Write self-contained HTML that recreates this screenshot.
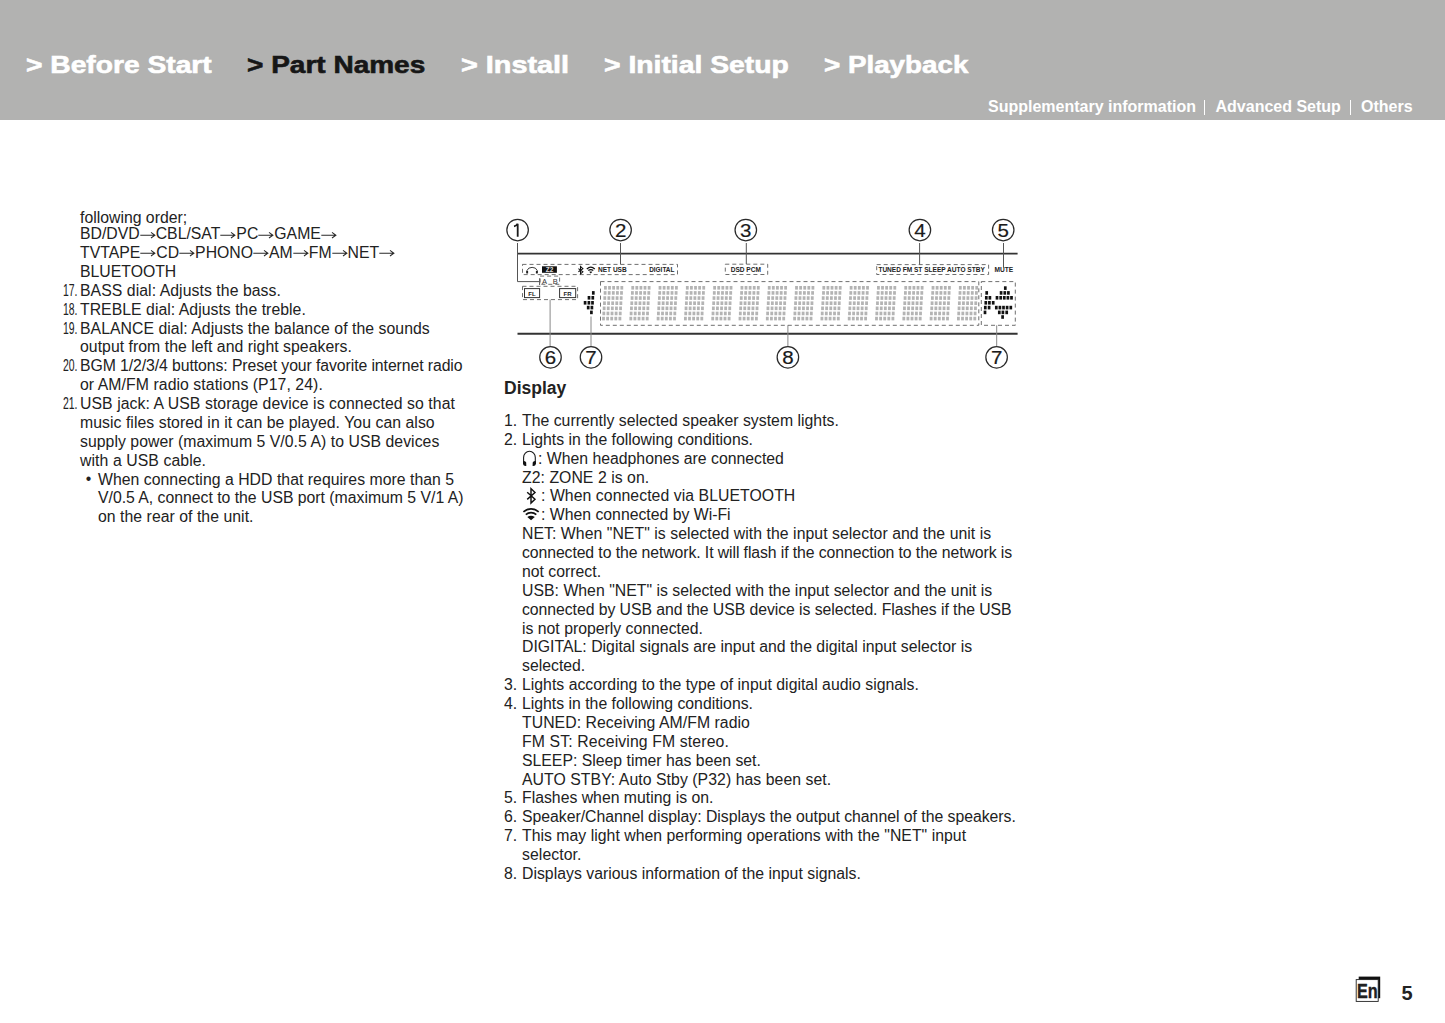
<!DOCTYPE html>
<html><head><meta charset="utf-8">
<style>
html,body{margin:0;padding:0;background:#fff;}
body{width:1445px;height:1023px;position:relative;overflow:hidden;font-family:"Liberation Sans",sans-serif;color:#222;}
#hdr{position:absolute;left:0;top:0;width:1445px;height:120px;background:#b2b2b1;}
.nav{position:absolute;top:50px;font-weight:bold;font-size:24px;color:#fff;white-space:nowrap;transform-origin:0 0;line-height:30px;-webkit-text-stroke:0.6px #fff;}
.nav.cur{color:#161616;-webkit-text-stroke:0.6px #161616;}
.sub{position:absolute;top:96.8px;font-weight:bold;font-size:16px;color:#fff;white-space:nowrap;line-height:20px;}
.bar{position:absolute;top:100px;width:1.3px;height:14.5px;background:#fff;}
.t{position:absolute;white-space:nowrap;font-size:15.8px;line-height:18.87px;}
.num{transform:scaleX(0.66);transform-origin:0 0;}
.ar{vertical-align:0.6px;display:inline-block;}
#dg{position:absolute;left:0;top:0;}
</style></head><body>
<div id="hdr">
<div class="nav" style="left:26px;transform:scaleX(1.175)">&gt; Before Start</div>
<div class="nav cur" style="left:247px;transform:scaleX(1.167)">&gt; Part Names</div>
<div class="nav" style="left:461px;transform:scaleX(1.2)">&gt; Install</div>
<div class="nav" style="left:604px;transform:scaleX(1.18)">&gt; Initial Setup</div>
<div class="nav" style="left:824px;transform:scaleX(1.157)">&gt; Playback</div>
<div class="sub" style="left:988px">Supplementary information</div>
<div class="bar" style="left:1204.2px"></div>
<div class="sub" style="left:1215.5px">Advanced Setup</div>
<div class="bar" style="left:1350px"></div>
<div class="sub" style="left:1361px">Others</div>
</div>
<div class="t" style="left:504px;top:376.64px;font-weight:bold;font-size:17.5px;line-height:22px">Display</div>
<div class="t" style="left:80px;top:208.59px">following order;</div>
<div class="t" style="left:80px;top:225.19px">BD/DVD<svg class="ar" width="16" height="8" viewBox="0 0 16 8"><path d="M0.3 4.2H14.4M11 1.4L14.9 4.2L11 7" stroke="#2a2a2a" stroke-width="1.05" fill="none"/></svg>CBL/SAT<svg class="ar" width="16" height="8" viewBox="0 0 16 8"><path d="M0.3 4.2H14.4M11 1.4L14.9 4.2L11 7" stroke="#2a2a2a" stroke-width="1.05" fill="none"/></svg>PC<svg class="ar" width="16" height="8" viewBox="0 0 16 8"><path d="M0.3 4.2H14.4M11 1.4L14.9 4.2L11 7" stroke="#2a2a2a" stroke-width="1.05" fill="none"/></svg>GAME<svg class="ar" width="16" height="8" viewBox="0 0 16 8"><path d="M0.3 4.2H14.4M11 1.4L14.9 4.2L11 7" stroke="#2a2a2a" stroke-width="1.05" fill="none"/></svg></div>
<div class="t" style="left:80px;top:244.06px">TVTAPE<svg class="ar" width="16" height="8" viewBox="0 0 16 8"><path d="M0.3 4.2H14.4M11 1.4L14.9 4.2L11 7" stroke="#2a2a2a" stroke-width="1.05" fill="none"/></svg>CD<svg class="ar" width="16" height="8" viewBox="0 0 16 8"><path d="M0.3 4.2H14.4M11 1.4L14.9 4.2L11 7" stroke="#2a2a2a" stroke-width="1.05" fill="none"/></svg>PHONO<svg class="ar" width="16" height="8" viewBox="0 0 16 8"><path d="M0.3 4.2H14.4M11 1.4L14.9 4.2L11 7" stroke="#2a2a2a" stroke-width="1.05" fill="none"/></svg>AM<svg class="ar" width="16" height="8" viewBox="0 0 16 8"><path d="M0.3 4.2H14.4M11 1.4L14.9 4.2L11 7" stroke="#2a2a2a" stroke-width="1.05" fill="none"/></svg>FM<svg class="ar" width="16" height="8" viewBox="0 0 16 8"><path d="M0.3 4.2H14.4M11 1.4L14.9 4.2L11 7" stroke="#2a2a2a" stroke-width="1.05" fill="none"/></svg>NET<svg class="ar" width="16" height="8" viewBox="0 0 16 8"><path d="M0.3 4.2H14.4M11 1.4L14.9 4.2L11 7" stroke="#2a2a2a" stroke-width="1.05" fill="none"/></svg></div>
<div class="t" style="left:80px;top:262.93px">BLUETOOTH</div>
<div class="t" style="left:80px;top:281.80px;letter-spacing:0.059px">BASS dial: Adjusts the bass.</div>
<div class="t num" style="left:63px;top:281.80px">17.</div>
<div class="t" style="left:80px;top:300.67px;letter-spacing:0.032px">TREBLE dial: Adjusts the treble.</div>
<div class="t num" style="left:63px;top:300.67px">18.</div>
<div class="t" style="left:80px;top:319.54px;letter-spacing:0.043px">BALANCE dial: Adjusts the balance of the sounds</div>
<div class="t num" style="left:63px;top:319.54px">19.</div>
<div class="t" style="left:80px;top:338.41px;letter-spacing:0.036px">output from the left and right speakers.</div>
<div class="t" style="left:80px;top:357.28px;letter-spacing:-0.085px">BGM 1/2/3/4 buttons: Preset your favorite internet radio</div>
<div class="t num" style="left:63px;top:357.28px">20.</div>
<div class="t" style="left:80px;top:376.15px;letter-spacing:0.067px">or AM/FM radio stations (P17, 24).</div>
<div class="t" style="left:80px;top:395.02px;letter-spacing:0.070px">USB jack: A USB storage device is connected so that</div>
<div class="t num" style="left:63px;top:395.02px">21.</div>
<div class="t" style="left:80px;top:413.89px;letter-spacing:0.049px">music files stored in it can be played. You can also</div>
<div class="t" style="left:80px;top:432.76px;letter-spacing:0.043px">supply power (maximum 5 V/0.5 A) to USB devices</div>
<div class="t" style="left:80px;top:451.63px;letter-spacing:0.081px">with a USB cable.</div>
<div class="t" style="left:98px;top:470.50px;letter-spacing:0.030px">When connecting a HDD that requires more than 5</div>
<div class="t" style="left:85.7px;top:469.50px">•</div>
<div class="t" style="left:98px;top:489.37px;letter-spacing:-0.014px">V/0.5 A, connect to the USB port (maximum 5 V/1 A)</div>
<div class="t" style="left:98px;top:508.24px;letter-spacing:0.039px">on the rear of the unit.</div>
<div class="t" style="left:522px;top:411.99px;letter-spacing:0.018px">The currently selected speaker system lights.</div>
<div class="t" style="left:504px;top:411.99px">1.</div>
<div class="t" style="left:522px;top:430.86px">Lights in the following conditions.</div>
<div class="t" style="left:504px;top:430.86px">2.</div>
<div class="t" style="left:538px;top:449.73px">: When headphones are connected</div>
<div class="t" style="left:522px;top:468.60px;letter-spacing:0.044px">Z2: ZONE 2 is on.</div>
<div class="t" style="left:541px;top:487.47px;letter-spacing:0.059px">: When connected via BLUETOOTH</div>
<div class="t" style="left:541px;top:506.34px">: When connected by Wi-Fi</div>
<div class="t" style="left:522px;top:525.21px;letter-spacing:0.048px">NET: When &quot;NET&quot; is selected with the input selector and the unit is</div>
<div class="t" style="left:522px;top:544.08px;letter-spacing:-0.093px">connected to the network. It will flash if the connection to the network is</div>
<div class="t" style="left:522px;top:562.95px">not correct.</div>
<div class="t" style="left:522px;top:581.82px;letter-spacing:0.024px">USB: When &quot;NET&quot; is selected with the input selector and the unit is</div>
<div class="t" style="left:522px;top:600.69px;letter-spacing:-0.059px">connected by USB and the USB device is selected. Flashes if the USB</div>
<div class="t" style="left:522px;top:619.56px">is not properly connected.</div>
<div class="t" style="left:522px;top:638.43px;letter-spacing:0.012px">DIGITAL: Digital signals are input and the digital input selector is</div>
<div class="t" style="left:522px;top:657.30px">selected.</div>
<div class="t" style="left:522px;top:676.17px;letter-spacing:0.014px">Lights according to the type of input digital audio signals.</div>
<div class="t" style="left:504px;top:676.17px">3.</div>
<div class="t" style="left:522px;top:695.04px">Lights in the following conditions.</div>
<div class="t" style="left:504px;top:695.04px">4.</div>
<div class="t" style="left:522px;top:713.91px;letter-spacing:0.052px">TUNED: Receiving AM/FM radio</div>
<div class="t" style="left:522px;top:732.78px;letter-spacing:0.123px">FM ST: Receiving FM stereo.</div>
<div class="t" style="left:522px;top:751.65px">SLEEP: Sleep timer has been set.</div>
<div class="t" style="left:522px;top:770.52px;letter-spacing:0.054px">AUTO STBY: Auto Stby (P32) has been set.</div>
<div class="t" style="left:522px;top:789.39px">Flashes when muting is on.</div>
<div class="t" style="left:504px;top:789.39px">5.</div>
<div class="t" style="left:522px;top:808.26px;letter-spacing:-0.021px">Speaker/Channel display: Displays the output channel of the speakers.</div>
<div class="t" style="left:504px;top:808.26px">6.</div>
<div class="t" style="left:522px;top:827.13px;letter-spacing:0.028px">This may light when performing operations with the &quot;NET&quot; input</div>
<div class="t" style="left:504px;top:827.13px">7.</div>
<div class="t" style="left:522px;top:846.00px;letter-spacing:0.075px">selector.</div>
<div class="t" style="left:522px;top:864.87px;letter-spacing:0.018px">Displays various information of the input signals.</div>
<div class="t" style="left:504px;top:864.87px">8.</div>
<svg id="dg" width="1445" height="1023" style="font-family:'Liberation Sans',sans-serif">
<circle cx="517.6" cy="230.0" r="10.75" fill="none" stroke="#2a2a2a" stroke-width="1.25"/>
<path d="M517.7 223.7 V236.8 M514.0 226.3 Q516.6 225.8 517.7 223.7" fill="none" stroke="#1a1a1a" stroke-width="1.8"/>
<circle cx="620.6" cy="230.0" r="10.75" fill="none" stroke="#2a2a2a" stroke-width="1.25"/>
<text x="0" y="0" transform="translate(620.6,236.75) scale(1.08,1)" font-size="19" text-anchor="middle" fill="#1a1a1a" stroke="#1a1a1a" stroke-width="0.2">2</text>
<circle cx="745.8" cy="230.0" r="10.75" fill="none" stroke="#2a2a2a" stroke-width="1.25"/>
<text x="0" y="0" transform="translate(745.8,236.75) scale(1.08,1)" font-size="19" text-anchor="middle" fill="#1a1a1a" stroke="#1a1a1a" stroke-width="0.2">3</text>
<circle cx="919.9" cy="230.0" r="10.75" fill="none" stroke="#2a2a2a" stroke-width="1.25"/>
<text x="0" y="0" transform="translate(919.9,236.75) scale(1.08,1)" font-size="19" text-anchor="middle" fill="#1a1a1a" stroke="#1a1a1a" stroke-width="0.2">4</text>
<circle cx="1003.2" cy="230.0" r="10.75" fill="none" stroke="#2a2a2a" stroke-width="1.25"/>
<text x="0" y="0" transform="translate(1003.2,236.75) scale(1.08,1)" font-size="19" text-anchor="middle" fill="#1a1a1a" stroke="#1a1a1a" stroke-width="0.2">5</text>
<circle cx="550.5" cy="357.3" r="10.75" fill="none" stroke="#2a2a2a" stroke-width="1.25"/>
<text x="0" y="0" transform="translate(550.5,364.05) scale(1.08,1)" font-size="19" text-anchor="middle" fill="#1a1a1a" stroke="#1a1a1a" stroke-width="0.2">6</text>
<circle cx="591.0" cy="357.3" r="10.75" fill="none" stroke="#2a2a2a" stroke-width="1.25"/>
<text x="0" y="0" transform="translate(591.0,364.05) scale(1.08,1)" font-size="19" text-anchor="middle" fill="#1a1a1a" stroke="#1a1a1a" stroke-width="0.2">7</text>
<circle cx="787.9" cy="357.3" r="10.75" fill="none" stroke="#2a2a2a" stroke-width="1.25"/>
<text x="0" y="0" transform="translate(787.9,364.05) scale(1.08,1)" font-size="19" text-anchor="middle" fill="#1a1a1a" stroke="#1a1a1a" stroke-width="0.2">8</text>
<circle cx="996.6" cy="357.3" r="10.75" fill="none" stroke="#2a2a2a" stroke-width="1.25"/>
<text x="0" y="0" transform="translate(996.6,364.05) scale(1.08,1)" font-size="19" text-anchor="middle" fill="#1a1a1a" stroke="#1a1a1a" stroke-width="0.2">7</text>
<line x1="517.5" y1="253.7" x2="1017.6" y2="253.7" stroke="#333" stroke-width="1.8"/>
<line x1="517.5" y1="333.7" x2="1017.6" y2="333.7" stroke="#333" stroke-width="1.9"/>
<path d="M517.5 243 V281.6 H539.6 M539.6 278.3 V285" fill="none" stroke="#555" stroke-width="1"/>
<line x1="620.5" y1="243" x2="620.5" y2="264.4" stroke="#555" stroke-width="1"/>
<line x1="746.3" y1="243" x2="746.3" y2="264.1" stroke="#555" stroke-width="1"/>
<line x1="919.6" y1="243" x2="919.6" y2="264.6" stroke="#555" stroke-width="1"/>
<line x1="1003.5" y1="243" x2="1003.5" y2="267.5" stroke="#555" stroke-width="1"/>
<line x1="550.1" y1="299.6" x2="550.1" y2="346" stroke="#888" stroke-width="1"/>
<line x1="591.0" y1="316.5" x2="591.0" y2="346" stroke="#888" stroke-width="1"/>
<line x1="787.9" y1="325.3" x2="787.9" y2="346" stroke="#888" stroke-width="1"/>
<line x1="996.7" y1="325.3" x2="996.7" y2="346" stroke="#888" stroke-width="1"/>
<rect x="522.5" y="264.4" width="155.00" height="10.20" fill="none" stroke="#555" stroke-width="0.85" stroke-dasharray="4 3"/>
<rect x="725.3" y="264.2" width="42.40" height="10.30" fill="none" stroke="#555" stroke-width="0.85" stroke-dasharray="4 3"/>
<rect x="876.7" y="264.6" width="111.90" height="9.90" fill="none" stroke="#555" stroke-width="0.85" stroke-dasharray="4 3"/>
<rect x="540.1" y="276.1" width="19.50" height="8.20" fill="none" stroke="#555" stroke-width="0.85" stroke-dasharray="4 3"/>
<rect x="522.5" y="286.3" width="55.10" height="13.30" fill="none" stroke="#555" stroke-width="0.85" stroke-dasharray="4 3"/>
<rect x="600.5" y="281.6" width="378.30" height="43.70" fill="none" stroke="#555" stroke-width="0.85" stroke-dasharray="4 3"/>
<rect x="981.3" y="281.6" width="34.00" height="43.70" fill="none" stroke="#555" stroke-width="0.85" stroke-dasharray="4 3"/>
<rect x="524.5" y="288.6" width="15.1" height="9" fill="none" stroke="#333" stroke-width="1"/>
<rect x="559.6" y="288.6" width="16.1" height="9" fill="none" stroke="#333" stroke-width="1"/>
<text x="532" y="295.6" font-size="6" font-weight="bold" text-anchor="middle" fill="#222">FL</text>
<text x="567.6" y="295.6" font-size="6" font-weight="bold" text-anchor="middle" fill="#222">FR</text>
<text x="544.6" y="283.7" font-size="7.5" text-anchor="middle" fill="#333">A</text>
<text x="555.2" y="283.7" font-size="7.5" text-anchor="middle" fill="#333">B</text>
<text x="598" y="272.4" font-size="6.8" font-weight="bold" fill="#222" textLength="28.7" lengthAdjust="spacingAndGlyphs">NET USB</text>
<text x="649.2" y="272.4" font-size="6.8" font-weight="bold" fill="#222" textLength="25.2" lengthAdjust="spacingAndGlyphs">DIGITAL</text>
<text x="730.7" y="272.3" font-size="6.8" font-weight="bold" fill="#222" textLength="30.2" lengthAdjust="spacingAndGlyphs">DSD PCM</text>
<text x="878.4" y="272.4" font-size="6.8" font-weight="bold" fill="#222" textLength="106.4" lengthAdjust="spacingAndGlyphs">TUNED FM ST SLEEP AUTO STBY</text>
<text x="994.5" y="272.4" font-size="6.8" font-weight="bold" fill="#222" textLength="18.7" lengthAdjust="spacingAndGlyphs">MUTE</text>
<rect x="542" y="266.3" width="14.9" height="6.5" fill="#111"/>
<text x="549.5" y="272" font-size="6.5" font-weight="bold" text-anchor="middle" fill="#ddd">Z2</text>
<path d="M527 273 V270.5 A5.3 4.3 0 0 1 537.2 270.5 V273" fill="none" stroke="#222" stroke-width="0.9"/>
<rect x="526.3" y="271" width="1.8" height="2.5" fill="#222"/><rect x="535.9" y="271" width="1.8" height="2.5" fill="#222"/>
<path d="M578.4 268.6 L582.9 271.8 L580.5 273.9 V266.5 L582.9 268.6 L578.4 271.8" fill="none" stroke="#111" stroke-width="1.05"/>
<path d="M586.8 268.9 A6.2 6.2 0 0 1 594.8 268.9 M588.3 270.6 A4 4 0 0 1 593.3 270.6" fill="none" stroke="#111" stroke-width="1.25"/>
<path d="M589.2 271.8 Q590.8 271 592.4 271.8 L590.8 273.4 Z" fill="#111"/>
<g fill="#b4b4b4"><rect x="604.02" y="286.00" width="2.8" height="3.6"/><rect x="608.12" y="286.00" width="2.8" height="3.6"/><rect x="612.22" y="286.00" width="2.8" height="3.6"/><rect x="616.32" y="286.00" width="2.8" height="3.6"/><rect x="620.42" y="286.00" width="2.8" height="3.6"/><rect x="603.70" y="291.13" width="2.8" height="3.6"/><rect x="607.80" y="291.13" width="2.8" height="3.6"/><rect x="611.90" y="291.13" width="2.8" height="3.6"/><rect x="616.00" y="291.13" width="2.8" height="3.6"/><rect x="620.10" y="291.13" width="2.8" height="3.6"/><rect x="603.38" y="296.26" width="2.8" height="3.6"/><rect x="607.48" y="296.26" width="2.8" height="3.6"/><rect x="611.58" y="296.26" width="2.8" height="3.6"/><rect x="615.68" y="296.26" width="2.8" height="3.6"/><rect x="619.78" y="296.26" width="2.8" height="3.6"/><rect x="603.06" y="301.39" width="2.8" height="3.6"/><rect x="607.16" y="301.39" width="2.8" height="3.6"/><rect x="611.26" y="301.39" width="2.8" height="3.6"/><rect x="615.36" y="301.39" width="2.8" height="3.6"/><rect x="619.46" y="301.39" width="2.8" height="3.6"/><rect x="602.74" y="306.52" width="2.8" height="3.6"/><rect x="606.84" y="306.52" width="2.8" height="3.6"/><rect x="610.94" y="306.52" width="2.8" height="3.6"/><rect x="615.04" y="306.52" width="2.8" height="3.6"/><rect x="619.14" y="306.52" width="2.8" height="3.6"/><rect x="602.42" y="311.65" width="2.8" height="3.6"/><rect x="606.52" y="311.65" width="2.8" height="3.6"/><rect x="610.62" y="311.65" width="2.8" height="3.6"/><rect x="614.72" y="311.65" width="2.8" height="3.6"/><rect x="618.82" y="311.65" width="2.8" height="3.6"/><rect x="602.10" y="316.78" width="2.8" height="3.6"/><rect x="606.20" y="316.78" width="2.8" height="3.6"/><rect x="610.30" y="316.78" width="2.8" height="3.6"/><rect x="614.40" y="316.78" width="2.8" height="3.6"/><rect x="618.50" y="316.78" width="2.8" height="3.6"/><rect x="631.32" y="286.00" width="2.8" height="3.6"/><rect x="635.42" y="286.00" width="2.8" height="3.6"/><rect x="639.52" y="286.00" width="2.8" height="3.6"/><rect x="643.62" y="286.00" width="2.8" height="3.6"/><rect x="647.72" y="286.00" width="2.8" height="3.6"/><rect x="631.00" y="291.13" width="2.8" height="3.6"/><rect x="635.10" y="291.13" width="2.8" height="3.6"/><rect x="639.20" y="291.13" width="2.8" height="3.6"/><rect x="643.30" y="291.13" width="2.8" height="3.6"/><rect x="647.40" y="291.13" width="2.8" height="3.6"/><rect x="630.68" y="296.26" width="2.8" height="3.6"/><rect x="634.78" y="296.26" width="2.8" height="3.6"/><rect x="638.88" y="296.26" width="2.8" height="3.6"/><rect x="642.98" y="296.26" width="2.8" height="3.6"/><rect x="647.08" y="296.26" width="2.8" height="3.6"/><rect x="630.36" y="301.39" width="2.8" height="3.6"/><rect x="634.46" y="301.39" width="2.8" height="3.6"/><rect x="638.56" y="301.39" width="2.8" height="3.6"/><rect x="642.66" y="301.39" width="2.8" height="3.6"/><rect x="646.76" y="301.39" width="2.8" height="3.6"/><rect x="630.04" y="306.52" width="2.8" height="3.6"/><rect x="634.14" y="306.52" width="2.8" height="3.6"/><rect x="638.24" y="306.52" width="2.8" height="3.6"/><rect x="642.34" y="306.52" width="2.8" height="3.6"/><rect x="646.44" y="306.52" width="2.8" height="3.6"/><rect x="629.72" y="311.65" width="2.8" height="3.6"/><rect x="633.82" y="311.65" width="2.8" height="3.6"/><rect x="637.92" y="311.65" width="2.8" height="3.6"/><rect x="642.02" y="311.65" width="2.8" height="3.6"/><rect x="646.12" y="311.65" width="2.8" height="3.6"/><rect x="629.40" y="316.78" width="2.8" height="3.6"/><rect x="633.50" y="316.78" width="2.8" height="3.6"/><rect x="637.60" y="316.78" width="2.8" height="3.6"/><rect x="641.70" y="316.78" width="2.8" height="3.6"/><rect x="645.80" y="316.78" width="2.8" height="3.6"/><rect x="658.62" y="286.00" width="2.8" height="3.6"/><rect x="662.72" y="286.00" width="2.8" height="3.6"/><rect x="666.82" y="286.00" width="2.8" height="3.6"/><rect x="670.92" y="286.00" width="2.8" height="3.6"/><rect x="675.02" y="286.00" width="2.8" height="3.6"/><rect x="658.30" y="291.13" width="2.8" height="3.6"/><rect x="662.40" y="291.13" width="2.8" height="3.6"/><rect x="666.50" y="291.13" width="2.8" height="3.6"/><rect x="670.60" y="291.13" width="2.8" height="3.6"/><rect x="674.70" y="291.13" width="2.8" height="3.6"/><rect x="657.98" y="296.26" width="2.8" height="3.6"/><rect x="662.08" y="296.26" width="2.8" height="3.6"/><rect x="666.18" y="296.26" width="2.8" height="3.6"/><rect x="670.28" y="296.26" width="2.8" height="3.6"/><rect x="674.38" y="296.26" width="2.8" height="3.6"/><rect x="657.66" y="301.39" width="2.8" height="3.6"/><rect x="661.76" y="301.39" width="2.8" height="3.6"/><rect x="665.86" y="301.39" width="2.8" height="3.6"/><rect x="669.96" y="301.39" width="2.8" height="3.6"/><rect x="674.06" y="301.39" width="2.8" height="3.6"/><rect x="657.34" y="306.52" width="2.8" height="3.6"/><rect x="661.44" y="306.52" width="2.8" height="3.6"/><rect x="665.54" y="306.52" width="2.8" height="3.6"/><rect x="669.64" y="306.52" width="2.8" height="3.6"/><rect x="673.74" y="306.52" width="2.8" height="3.6"/><rect x="657.02" y="311.65" width="2.8" height="3.6"/><rect x="661.12" y="311.65" width="2.8" height="3.6"/><rect x="665.22" y="311.65" width="2.8" height="3.6"/><rect x="669.32" y="311.65" width="2.8" height="3.6"/><rect x="673.42" y="311.65" width="2.8" height="3.6"/><rect x="656.70" y="316.78" width="2.8" height="3.6"/><rect x="660.80" y="316.78" width="2.8" height="3.6"/><rect x="664.90" y="316.78" width="2.8" height="3.6"/><rect x="669.00" y="316.78" width="2.8" height="3.6"/><rect x="673.10" y="316.78" width="2.8" height="3.6"/><rect x="685.92" y="286.00" width="2.8" height="3.6"/><rect x="690.02" y="286.00" width="2.8" height="3.6"/><rect x="694.12" y="286.00" width="2.8" height="3.6"/><rect x="698.22" y="286.00" width="2.8" height="3.6"/><rect x="702.32" y="286.00" width="2.8" height="3.6"/><rect x="685.60" y="291.13" width="2.8" height="3.6"/><rect x="689.70" y="291.13" width="2.8" height="3.6"/><rect x="693.80" y="291.13" width="2.8" height="3.6"/><rect x="697.90" y="291.13" width="2.8" height="3.6"/><rect x="702.00" y="291.13" width="2.8" height="3.6"/><rect x="685.28" y="296.26" width="2.8" height="3.6"/><rect x="689.38" y="296.26" width="2.8" height="3.6"/><rect x="693.48" y="296.26" width="2.8" height="3.6"/><rect x="697.58" y="296.26" width="2.8" height="3.6"/><rect x="701.68" y="296.26" width="2.8" height="3.6"/><rect x="684.96" y="301.39" width="2.8" height="3.6"/><rect x="689.06" y="301.39" width="2.8" height="3.6"/><rect x="693.16" y="301.39" width="2.8" height="3.6"/><rect x="697.26" y="301.39" width="2.8" height="3.6"/><rect x="701.36" y="301.39" width="2.8" height="3.6"/><rect x="684.64" y="306.52" width="2.8" height="3.6"/><rect x="688.74" y="306.52" width="2.8" height="3.6"/><rect x="692.84" y="306.52" width="2.8" height="3.6"/><rect x="696.94" y="306.52" width="2.8" height="3.6"/><rect x="701.04" y="306.52" width="2.8" height="3.6"/><rect x="684.32" y="311.65" width="2.8" height="3.6"/><rect x="688.42" y="311.65" width="2.8" height="3.6"/><rect x="692.52" y="311.65" width="2.8" height="3.6"/><rect x="696.62" y="311.65" width="2.8" height="3.6"/><rect x="700.72" y="311.65" width="2.8" height="3.6"/><rect x="684.00" y="316.78" width="2.8" height="3.6"/><rect x="688.10" y="316.78" width="2.8" height="3.6"/><rect x="692.20" y="316.78" width="2.8" height="3.6"/><rect x="696.30" y="316.78" width="2.8" height="3.6"/><rect x="700.40" y="316.78" width="2.8" height="3.6"/><rect x="713.22" y="286.00" width="2.8" height="3.6"/><rect x="717.32" y="286.00" width="2.8" height="3.6"/><rect x="721.42" y="286.00" width="2.8" height="3.6"/><rect x="725.52" y="286.00" width="2.8" height="3.6"/><rect x="729.62" y="286.00" width="2.8" height="3.6"/><rect x="712.90" y="291.13" width="2.8" height="3.6"/><rect x="717.00" y="291.13" width="2.8" height="3.6"/><rect x="721.10" y="291.13" width="2.8" height="3.6"/><rect x="725.20" y="291.13" width="2.8" height="3.6"/><rect x="729.30" y="291.13" width="2.8" height="3.6"/><rect x="712.58" y="296.26" width="2.8" height="3.6"/><rect x="716.68" y="296.26" width="2.8" height="3.6"/><rect x="720.78" y="296.26" width="2.8" height="3.6"/><rect x="724.88" y="296.26" width="2.8" height="3.6"/><rect x="728.98" y="296.26" width="2.8" height="3.6"/><rect x="712.26" y="301.39" width="2.8" height="3.6"/><rect x="716.36" y="301.39" width="2.8" height="3.6"/><rect x="720.46" y="301.39" width="2.8" height="3.6"/><rect x="724.56" y="301.39" width="2.8" height="3.6"/><rect x="728.66" y="301.39" width="2.8" height="3.6"/><rect x="711.94" y="306.52" width="2.8" height="3.6"/><rect x="716.04" y="306.52" width="2.8" height="3.6"/><rect x="720.14" y="306.52" width="2.8" height="3.6"/><rect x="724.24" y="306.52" width="2.8" height="3.6"/><rect x="728.34" y="306.52" width="2.8" height="3.6"/><rect x="711.62" y="311.65" width="2.8" height="3.6"/><rect x="715.72" y="311.65" width="2.8" height="3.6"/><rect x="719.82" y="311.65" width="2.8" height="3.6"/><rect x="723.92" y="311.65" width="2.8" height="3.6"/><rect x="728.02" y="311.65" width="2.8" height="3.6"/><rect x="711.30" y="316.78" width="2.8" height="3.6"/><rect x="715.40" y="316.78" width="2.8" height="3.6"/><rect x="719.50" y="316.78" width="2.8" height="3.6"/><rect x="723.60" y="316.78" width="2.8" height="3.6"/><rect x="727.70" y="316.78" width="2.8" height="3.6"/><rect x="740.52" y="286.00" width="2.8" height="3.6"/><rect x="744.62" y="286.00" width="2.8" height="3.6"/><rect x="748.72" y="286.00" width="2.8" height="3.6"/><rect x="752.82" y="286.00" width="2.8" height="3.6"/><rect x="756.92" y="286.00" width="2.8" height="3.6"/><rect x="740.20" y="291.13" width="2.8" height="3.6"/><rect x="744.30" y="291.13" width="2.8" height="3.6"/><rect x="748.40" y="291.13" width="2.8" height="3.6"/><rect x="752.50" y="291.13" width="2.8" height="3.6"/><rect x="756.60" y="291.13" width="2.8" height="3.6"/><rect x="739.88" y="296.26" width="2.8" height="3.6"/><rect x="743.98" y="296.26" width="2.8" height="3.6"/><rect x="748.08" y="296.26" width="2.8" height="3.6"/><rect x="752.18" y="296.26" width="2.8" height="3.6"/><rect x="756.28" y="296.26" width="2.8" height="3.6"/><rect x="739.56" y="301.39" width="2.8" height="3.6"/><rect x="743.66" y="301.39" width="2.8" height="3.6"/><rect x="747.76" y="301.39" width="2.8" height="3.6"/><rect x="751.86" y="301.39" width="2.8" height="3.6"/><rect x="755.96" y="301.39" width="2.8" height="3.6"/><rect x="739.24" y="306.52" width="2.8" height="3.6"/><rect x="743.34" y="306.52" width="2.8" height="3.6"/><rect x="747.44" y="306.52" width="2.8" height="3.6"/><rect x="751.54" y="306.52" width="2.8" height="3.6"/><rect x="755.64" y="306.52" width="2.8" height="3.6"/><rect x="738.92" y="311.65" width="2.8" height="3.6"/><rect x="743.02" y="311.65" width="2.8" height="3.6"/><rect x="747.12" y="311.65" width="2.8" height="3.6"/><rect x="751.22" y="311.65" width="2.8" height="3.6"/><rect x="755.32" y="311.65" width="2.8" height="3.6"/><rect x="738.60" y="316.78" width="2.8" height="3.6"/><rect x="742.70" y="316.78" width="2.8" height="3.6"/><rect x="746.80" y="316.78" width="2.8" height="3.6"/><rect x="750.90" y="316.78" width="2.8" height="3.6"/><rect x="755.00" y="316.78" width="2.8" height="3.6"/><rect x="767.82" y="286.00" width="2.8" height="3.6"/><rect x="771.92" y="286.00" width="2.8" height="3.6"/><rect x="776.02" y="286.00" width="2.8" height="3.6"/><rect x="780.12" y="286.00" width="2.8" height="3.6"/><rect x="784.22" y="286.00" width="2.8" height="3.6"/><rect x="767.50" y="291.13" width="2.8" height="3.6"/><rect x="771.60" y="291.13" width="2.8" height="3.6"/><rect x="775.70" y="291.13" width="2.8" height="3.6"/><rect x="779.80" y="291.13" width="2.8" height="3.6"/><rect x="783.90" y="291.13" width="2.8" height="3.6"/><rect x="767.18" y="296.26" width="2.8" height="3.6"/><rect x="771.28" y="296.26" width="2.8" height="3.6"/><rect x="775.38" y="296.26" width="2.8" height="3.6"/><rect x="779.48" y="296.26" width="2.8" height="3.6"/><rect x="783.58" y="296.26" width="2.8" height="3.6"/><rect x="766.86" y="301.39" width="2.8" height="3.6"/><rect x="770.96" y="301.39" width="2.8" height="3.6"/><rect x="775.06" y="301.39" width="2.8" height="3.6"/><rect x="779.16" y="301.39" width="2.8" height="3.6"/><rect x="783.26" y="301.39" width="2.8" height="3.6"/><rect x="766.54" y="306.52" width="2.8" height="3.6"/><rect x="770.64" y="306.52" width="2.8" height="3.6"/><rect x="774.74" y="306.52" width="2.8" height="3.6"/><rect x="778.84" y="306.52" width="2.8" height="3.6"/><rect x="782.94" y="306.52" width="2.8" height="3.6"/><rect x="766.22" y="311.65" width="2.8" height="3.6"/><rect x="770.32" y="311.65" width="2.8" height="3.6"/><rect x="774.42" y="311.65" width="2.8" height="3.6"/><rect x="778.52" y="311.65" width="2.8" height="3.6"/><rect x="782.62" y="311.65" width="2.8" height="3.6"/><rect x="765.90" y="316.78" width="2.8" height="3.6"/><rect x="770.00" y="316.78" width="2.8" height="3.6"/><rect x="774.10" y="316.78" width="2.8" height="3.6"/><rect x="778.20" y="316.78" width="2.8" height="3.6"/><rect x="782.30" y="316.78" width="2.8" height="3.6"/><rect x="795.12" y="286.00" width="2.8" height="3.6"/><rect x="799.22" y="286.00" width="2.8" height="3.6"/><rect x="803.32" y="286.00" width="2.8" height="3.6"/><rect x="807.42" y="286.00" width="2.8" height="3.6"/><rect x="811.52" y="286.00" width="2.8" height="3.6"/><rect x="794.80" y="291.13" width="2.8" height="3.6"/><rect x="798.90" y="291.13" width="2.8" height="3.6"/><rect x="803.00" y="291.13" width="2.8" height="3.6"/><rect x="807.10" y="291.13" width="2.8" height="3.6"/><rect x="811.20" y="291.13" width="2.8" height="3.6"/><rect x="794.48" y="296.26" width="2.8" height="3.6"/><rect x="798.58" y="296.26" width="2.8" height="3.6"/><rect x="802.68" y="296.26" width="2.8" height="3.6"/><rect x="806.78" y="296.26" width="2.8" height="3.6"/><rect x="810.88" y="296.26" width="2.8" height="3.6"/><rect x="794.16" y="301.39" width="2.8" height="3.6"/><rect x="798.26" y="301.39" width="2.8" height="3.6"/><rect x="802.36" y="301.39" width="2.8" height="3.6"/><rect x="806.46" y="301.39" width="2.8" height="3.6"/><rect x="810.56" y="301.39" width="2.8" height="3.6"/><rect x="793.84" y="306.52" width="2.8" height="3.6"/><rect x="797.94" y="306.52" width="2.8" height="3.6"/><rect x="802.04" y="306.52" width="2.8" height="3.6"/><rect x="806.14" y="306.52" width="2.8" height="3.6"/><rect x="810.24" y="306.52" width="2.8" height="3.6"/><rect x="793.52" y="311.65" width="2.8" height="3.6"/><rect x="797.62" y="311.65" width="2.8" height="3.6"/><rect x="801.72" y="311.65" width="2.8" height="3.6"/><rect x="805.82" y="311.65" width="2.8" height="3.6"/><rect x="809.92" y="311.65" width="2.8" height="3.6"/><rect x="793.20" y="316.78" width="2.8" height="3.6"/><rect x="797.30" y="316.78" width="2.8" height="3.6"/><rect x="801.40" y="316.78" width="2.8" height="3.6"/><rect x="805.50" y="316.78" width="2.8" height="3.6"/><rect x="809.60" y="316.78" width="2.8" height="3.6"/><rect x="822.42" y="286.00" width="2.8" height="3.6"/><rect x="826.52" y="286.00" width="2.8" height="3.6"/><rect x="830.62" y="286.00" width="2.8" height="3.6"/><rect x="834.72" y="286.00" width="2.8" height="3.6"/><rect x="838.82" y="286.00" width="2.8" height="3.6"/><rect x="822.10" y="291.13" width="2.8" height="3.6"/><rect x="826.20" y="291.13" width="2.8" height="3.6"/><rect x="830.30" y="291.13" width="2.8" height="3.6"/><rect x="834.40" y="291.13" width="2.8" height="3.6"/><rect x="838.50" y="291.13" width="2.8" height="3.6"/><rect x="821.78" y="296.26" width="2.8" height="3.6"/><rect x="825.88" y="296.26" width="2.8" height="3.6"/><rect x="829.98" y="296.26" width="2.8" height="3.6"/><rect x="834.08" y="296.26" width="2.8" height="3.6"/><rect x="838.18" y="296.26" width="2.8" height="3.6"/><rect x="821.46" y="301.39" width="2.8" height="3.6"/><rect x="825.56" y="301.39" width="2.8" height="3.6"/><rect x="829.66" y="301.39" width="2.8" height="3.6"/><rect x="833.76" y="301.39" width="2.8" height="3.6"/><rect x="837.86" y="301.39" width="2.8" height="3.6"/><rect x="821.14" y="306.52" width="2.8" height="3.6"/><rect x="825.24" y="306.52" width="2.8" height="3.6"/><rect x="829.34" y="306.52" width="2.8" height="3.6"/><rect x="833.44" y="306.52" width="2.8" height="3.6"/><rect x="837.54" y="306.52" width="2.8" height="3.6"/><rect x="820.82" y="311.65" width="2.8" height="3.6"/><rect x="824.92" y="311.65" width="2.8" height="3.6"/><rect x="829.02" y="311.65" width="2.8" height="3.6"/><rect x="833.12" y="311.65" width="2.8" height="3.6"/><rect x="837.22" y="311.65" width="2.8" height="3.6"/><rect x="820.50" y="316.78" width="2.8" height="3.6"/><rect x="824.60" y="316.78" width="2.8" height="3.6"/><rect x="828.70" y="316.78" width="2.8" height="3.6"/><rect x="832.80" y="316.78" width="2.8" height="3.6"/><rect x="836.90" y="316.78" width="2.8" height="3.6"/><rect x="849.72" y="286.00" width="2.8" height="3.6"/><rect x="853.82" y="286.00" width="2.8" height="3.6"/><rect x="857.92" y="286.00" width="2.8" height="3.6"/><rect x="862.02" y="286.00" width="2.8" height="3.6"/><rect x="866.12" y="286.00" width="2.8" height="3.6"/><rect x="849.40" y="291.13" width="2.8" height="3.6"/><rect x="853.50" y="291.13" width="2.8" height="3.6"/><rect x="857.60" y="291.13" width="2.8" height="3.6"/><rect x="861.70" y="291.13" width="2.8" height="3.6"/><rect x="865.80" y="291.13" width="2.8" height="3.6"/><rect x="849.08" y="296.26" width="2.8" height="3.6"/><rect x="853.18" y="296.26" width="2.8" height="3.6"/><rect x="857.28" y="296.26" width="2.8" height="3.6"/><rect x="861.38" y="296.26" width="2.8" height="3.6"/><rect x="865.48" y="296.26" width="2.8" height="3.6"/><rect x="848.76" y="301.39" width="2.8" height="3.6"/><rect x="852.86" y="301.39" width="2.8" height="3.6"/><rect x="856.96" y="301.39" width="2.8" height="3.6"/><rect x="861.06" y="301.39" width="2.8" height="3.6"/><rect x="865.16" y="301.39" width="2.8" height="3.6"/><rect x="848.44" y="306.52" width="2.8" height="3.6"/><rect x="852.54" y="306.52" width="2.8" height="3.6"/><rect x="856.64" y="306.52" width="2.8" height="3.6"/><rect x="860.74" y="306.52" width="2.8" height="3.6"/><rect x="864.84" y="306.52" width="2.8" height="3.6"/><rect x="848.12" y="311.65" width="2.8" height="3.6"/><rect x="852.22" y="311.65" width="2.8" height="3.6"/><rect x="856.32" y="311.65" width="2.8" height="3.6"/><rect x="860.42" y="311.65" width="2.8" height="3.6"/><rect x="864.52" y="311.65" width="2.8" height="3.6"/><rect x="847.80" y="316.78" width="2.8" height="3.6"/><rect x="851.90" y="316.78" width="2.8" height="3.6"/><rect x="856.00" y="316.78" width="2.8" height="3.6"/><rect x="860.10" y="316.78" width="2.8" height="3.6"/><rect x="864.20" y="316.78" width="2.8" height="3.6"/><rect x="877.02" y="286.00" width="2.8" height="3.6"/><rect x="881.12" y="286.00" width="2.8" height="3.6"/><rect x="885.22" y="286.00" width="2.8" height="3.6"/><rect x="889.32" y="286.00" width="2.8" height="3.6"/><rect x="893.42" y="286.00" width="2.8" height="3.6"/><rect x="876.70" y="291.13" width="2.8" height="3.6"/><rect x="880.80" y="291.13" width="2.8" height="3.6"/><rect x="884.90" y="291.13" width="2.8" height="3.6"/><rect x="889.00" y="291.13" width="2.8" height="3.6"/><rect x="893.10" y="291.13" width="2.8" height="3.6"/><rect x="876.38" y="296.26" width="2.8" height="3.6"/><rect x="880.48" y="296.26" width="2.8" height="3.6"/><rect x="884.58" y="296.26" width="2.8" height="3.6"/><rect x="888.68" y="296.26" width="2.8" height="3.6"/><rect x="892.78" y="296.26" width="2.8" height="3.6"/><rect x="876.06" y="301.39" width="2.8" height="3.6"/><rect x="880.16" y="301.39" width="2.8" height="3.6"/><rect x="884.26" y="301.39" width="2.8" height="3.6"/><rect x="888.36" y="301.39" width="2.8" height="3.6"/><rect x="892.46" y="301.39" width="2.8" height="3.6"/><rect x="875.74" y="306.52" width="2.8" height="3.6"/><rect x="879.84" y="306.52" width="2.8" height="3.6"/><rect x="883.94" y="306.52" width="2.8" height="3.6"/><rect x="888.04" y="306.52" width="2.8" height="3.6"/><rect x="892.14" y="306.52" width="2.8" height="3.6"/><rect x="875.42" y="311.65" width="2.8" height="3.6"/><rect x="879.52" y="311.65" width="2.8" height="3.6"/><rect x="883.62" y="311.65" width="2.8" height="3.6"/><rect x="887.72" y="311.65" width="2.8" height="3.6"/><rect x="891.82" y="311.65" width="2.8" height="3.6"/><rect x="875.10" y="316.78" width="2.8" height="3.6"/><rect x="879.20" y="316.78" width="2.8" height="3.6"/><rect x="883.30" y="316.78" width="2.8" height="3.6"/><rect x="887.40" y="316.78" width="2.8" height="3.6"/><rect x="891.50" y="316.78" width="2.8" height="3.6"/><rect x="904.32" y="286.00" width="2.8" height="3.6"/><rect x="908.42" y="286.00" width="2.8" height="3.6"/><rect x="912.52" y="286.00" width="2.8" height="3.6"/><rect x="916.62" y="286.00" width="2.8" height="3.6"/><rect x="920.72" y="286.00" width="2.8" height="3.6"/><rect x="904.00" y="291.13" width="2.8" height="3.6"/><rect x="908.10" y="291.13" width="2.8" height="3.6"/><rect x="912.20" y="291.13" width="2.8" height="3.6"/><rect x="916.30" y="291.13" width="2.8" height="3.6"/><rect x="920.40" y="291.13" width="2.8" height="3.6"/><rect x="903.68" y="296.26" width="2.8" height="3.6"/><rect x="907.78" y="296.26" width="2.8" height="3.6"/><rect x="911.88" y="296.26" width="2.8" height="3.6"/><rect x="915.98" y="296.26" width="2.8" height="3.6"/><rect x="920.08" y="296.26" width="2.8" height="3.6"/><rect x="903.36" y="301.39" width="2.8" height="3.6"/><rect x="907.46" y="301.39" width="2.8" height="3.6"/><rect x="911.56" y="301.39" width="2.8" height="3.6"/><rect x="915.66" y="301.39" width="2.8" height="3.6"/><rect x="919.76" y="301.39" width="2.8" height="3.6"/><rect x="903.04" y="306.52" width="2.8" height="3.6"/><rect x="907.14" y="306.52" width="2.8" height="3.6"/><rect x="911.24" y="306.52" width="2.8" height="3.6"/><rect x="915.34" y="306.52" width="2.8" height="3.6"/><rect x="919.44" y="306.52" width="2.8" height="3.6"/><rect x="902.72" y="311.65" width="2.8" height="3.6"/><rect x="906.82" y="311.65" width="2.8" height="3.6"/><rect x="910.92" y="311.65" width="2.8" height="3.6"/><rect x="915.02" y="311.65" width="2.8" height="3.6"/><rect x="919.12" y="311.65" width="2.8" height="3.6"/><rect x="902.40" y="316.78" width="2.8" height="3.6"/><rect x="906.50" y="316.78" width="2.8" height="3.6"/><rect x="910.60" y="316.78" width="2.8" height="3.6"/><rect x="914.70" y="316.78" width="2.8" height="3.6"/><rect x="918.80" y="316.78" width="2.8" height="3.6"/><rect x="931.62" y="286.00" width="2.8" height="3.6"/><rect x="935.72" y="286.00" width="2.8" height="3.6"/><rect x="939.82" y="286.00" width="2.8" height="3.6"/><rect x="943.92" y="286.00" width="2.8" height="3.6"/><rect x="948.02" y="286.00" width="2.8" height="3.6"/><rect x="931.30" y="291.13" width="2.8" height="3.6"/><rect x="935.40" y="291.13" width="2.8" height="3.6"/><rect x="939.50" y="291.13" width="2.8" height="3.6"/><rect x="943.60" y="291.13" width="2.8" height="3.6"/><rect x="947.70" y="291.13" width="2.8" height="3.6"/><rect x="930.98" y="296.26" width="2.8" height="3.6"/><rect x="935.08" y="296.26" width="2.8" height="3.6"/><rect x="939.18" y="296.26" width="2.8" height="3.6"/><rect x="943.28" y="296.26" width="2.8" height="3.6"/><rect x="947.38" y="296.26" width="2.8" height="3.6"/><rect x="930.66" y="301.39" width="2.8" height="3.6"/><rect x="934.76" y="301.39" width="2.8" height="3.6"/><rect x="938.86" y="301.39" width="2.8" height="3.6"/><rect x="942.96" y="301.39" width="2.8" height="3.6"/><rect x="947.06" y="301.39" width="2.8" height="3.6"/><rect x="930.34" y="306.52" width="2.8" height="3.6"/><rect x="934.44" y="306.52" width="2.8" height="3.6"/><rect x="938.54" y="306.52" width="2.8" height="3.6"/><rect x="942.64" y="306.52" width="2.8" height="3.6"/><rect x="946.74" y="306.52" width="2.8" height="3.6"/><rect x="930.02" y="311.65" width="2.8" height="3.6"/><rect x="934.12" y="311.65" width="2.8" height="3.6"/><rect x="938.22" y="311.65" width="2.8" height="3.6"/><rect x="942.32" y="311.65" width="2.8" height="3.6"/><rect x="946.42" y="311.65" width="2.8" height="3.6"/><rect x="929.70" y="316.78" width="2.8" height="3.6"/><rect x="933.80" y="316.78" width="2.8" height="3.6"/><rect x="937.90" y="316.78" width="2.8" height="3.6"/><rect x="942.00" y="316.78" width="2.8" height="3.6"/><rect x="946.10" y="316.78" width="2.8" height="3.6"/><rect x="958.92" y="286.00" width="2.8" height="3.6"/><rect x="963.02" y="286.00" width="2.8" height="3.6"/><rect x="967.12" y="286.00" width="2.8" height="3.6"/><rect x="971.22" y="286.00" width="2.8" height="3.6"/><rect x="975.32" y="286.00" width="2.8" height="3.6"/><rect x="958.60" y="291.13" width="2.8" height="3.6"/><rect x="962.70" y="291.13" width="2.8" height="3.6"/><rect x="966.80" y="291.13" width="2.8" height="3.6"/><rect x="970.90" y="291.13" width="2.8" height="3.6"/><rect x="975.00" y="291.13" width="2.8" height="3.6"/><rect x="958.28" y="296.26" width="2.8" height="3.6"/><rect x="962.38" y="296.26" width="2.8" height="3.6"/><rect x="966.48" y="296.26" width="2.8" height="3.6"/><rect x="970.58" y="296.26" width="2.8" height="3.6"/><rect x="974.68" y="296.26" width="2.8" height="3.6"/><rect x="957.96" y="301.39" width="2.8" height="3.6"/><rect x="962.06" y="301.39" width="2.8" height="3.6"/><rect x="966.16" y="301.39" width="2.8" height="3.6"/><rect x="970.26" y="301.39" width="2.8" height="3.6"/><rect x="974.36" y="301.39" width="2.8" height="3.6"/><rect x="957.64" y="306.52" width="2.8" height="3.6"/><rect x="961.74" y="306.52" width="2.8" height="3.6"/><rect x="965.84" y="306.52" width="2.8" height="3.6"/><rect x="969.94" y="306.52" width="2.8" height="3.6"/><rect x="974.04" y="306.52" width="2.8" height="3.6"/><rect x="957.32" y="311.65" width="2.8" height="3.6"/><rect x="961.42" y="311.65" width="2.8" height="3.6"/><rect x="965.52" y="311.65" width="2.8" height="3.6"/><rect x="969.62" y="311.65" width="2.8" height="3.6"/><rect x="973.72" y="311.65" width="2.8" height="3.6"/><rect x="957.00" y="316.78" width="2.8" height="3.6"/><rect x="961.10" y="316.78" width="2.8" height="3.6"/><rect x="965.20" y="316.78" width="2.8" height="3.6"/><rect x="969.30" y="316.78" width="2.8" height="3.6"/><rect x="973.40" y="316.78" width="2.8" height="3.6"/></g>
<g fill="#111"><rect x="591.95" y="291.10" width="2.7" height="3.6"/><rect x="587.65" y="296.00" width="2.7" height="3.6"/><rect x="591.45" y="296.00" width="2.7" height="3.6"/><rect x="583.75" y="301.00" width="2.7" height="3.6"/><rect x="587.55" y="301.00" width="2.7" height="3.6"/><rect x="591.15" y="301.00" width="2.7" height="3.6"/><rect x="586.85" y="305.80" width="2.7" height="3.6"/><rect x="590.55" y="305.80" width="2.7" height="3.6"/><rect x="590.05" y="310.60" width="2.7" height="3.6"/><rect x="1003.95" y="286.30" width="2.7" height="3.6"/><rect x="985.35" y="291.10" width="2.7" height="3.6"/><rect x="999.75" y="291.10" width="2.7" height="3.6"/><rect x="1003.45" y="291.10" width="2.7" height="3.6"/><rect x="1007.05" y="291.10" width="2.7" height="3.6"/><rect x="984.95" y="296.00" width="2.7" height="3.6"/><rect x="988.55" y="296.00" width="2.7" height="3.6"/><rect x="995.65" y="296.00" width="2.7" height="3.6"/><rect x="999.35" y="296.00" width="2.7" height="3.6"/><rect x="1002.95" y="296.00" width="2.7" height="3.6"/><rect x="1006.55" y="296.00" width="2.7" height="3.6"/><rect x="1010.15" y="296.00" width="2.7" height="3.6"/><rect x="984.45" y="301.00" width="2.7" height="3.6"/><rect x="988.05" y="301.00" width="2.7" height="3.6"/><rect x="991.85" y="301.00" width="2.7" height="3.6"/><rect x="983.95" y="305.80" width="2.7" height="3.6"/><rect x="987.75" y="305.80" width="2.7" height="3.6"/><rect x="994.95" y="305.80" width="2.7" height="3.6"/><rect x="998.55" y="305.80" width="2.7" height="3.6"/><rect x="1002.15" y="305.80" width="2.7" height="3.6"/><rect x="1005.75" y="305.80" width="2.7" height="3.6"/><rect x="1009.45" y="305.80" width="2.7" height="3.6"/><rect x="983.65" y="310.60" width="2.7" height="3.6"/><rect x="997.95" y="310.60" width="2.7" height="3.6"/><rect x="1001.55" y="310.60" width="2.7" height="3.6"/><rect x="1005.35" y="310.60" width="2.7" height="3.6"/><rect x="1001.25" y="315.20" width="2.7" height="3.6"/></g>
<path d="M523.6 464 V457.5 A5.85 6.2 0 0 1 535.3 457.5 V464" fill="none" stroke="#1a1a1a" stroke-width="1.1"/>
<path d="M523 461.2 Q525.5 460.6 526.2 462.6 L526.3 466 Q523.4 466.3 523 464 Z M535.9 461.2 Q533.4 460.6 532.7 462.6 L532.6 466 Q535.5 466.3 535.9 464 Z" fill="#111"/>
<path d="M527.2 492.3 L535 499.2 L531 503.1 V488.6 L535 492.5 L527.2 499.4" fill="none" stroke="#111" stroke-width="1.45"/>
<path d="M523.4 511.8 A11.5 11.5 0 0 1 538.7 511.8 M525.8 514.6 A8 8 0 0 1 536.3 514.6" fill="none" stroke="#111" stroke-width="1.7"/>
<path d="M527.3 516.9 Q531 514.6 534.8 516.9 L531.05 520.3 Z" fill="#111"/>
<rect x="1358.7" y="976.6" width="21.5" height="21.6" fill="#111"/>
<rect x="1356.2" y="979.6" width="22" height="21.8" fill="#fff" stroke="#222" stroke-width="0.9"/>
</svg>
<div class="t" style="left:1357.1px;top:979.9px;font-weight:bold;font-size:20px;line-height:22px;-webkit-text-stroke:0.35px #1a1a1a;transform:scaleX(0.81);transform-origin:0 0">En</div>
<div class="t" style="left:1401.5px;top:982.4px;font-weight:bold;font-size:20px;line-height:22px">5</div>
</body></html>
